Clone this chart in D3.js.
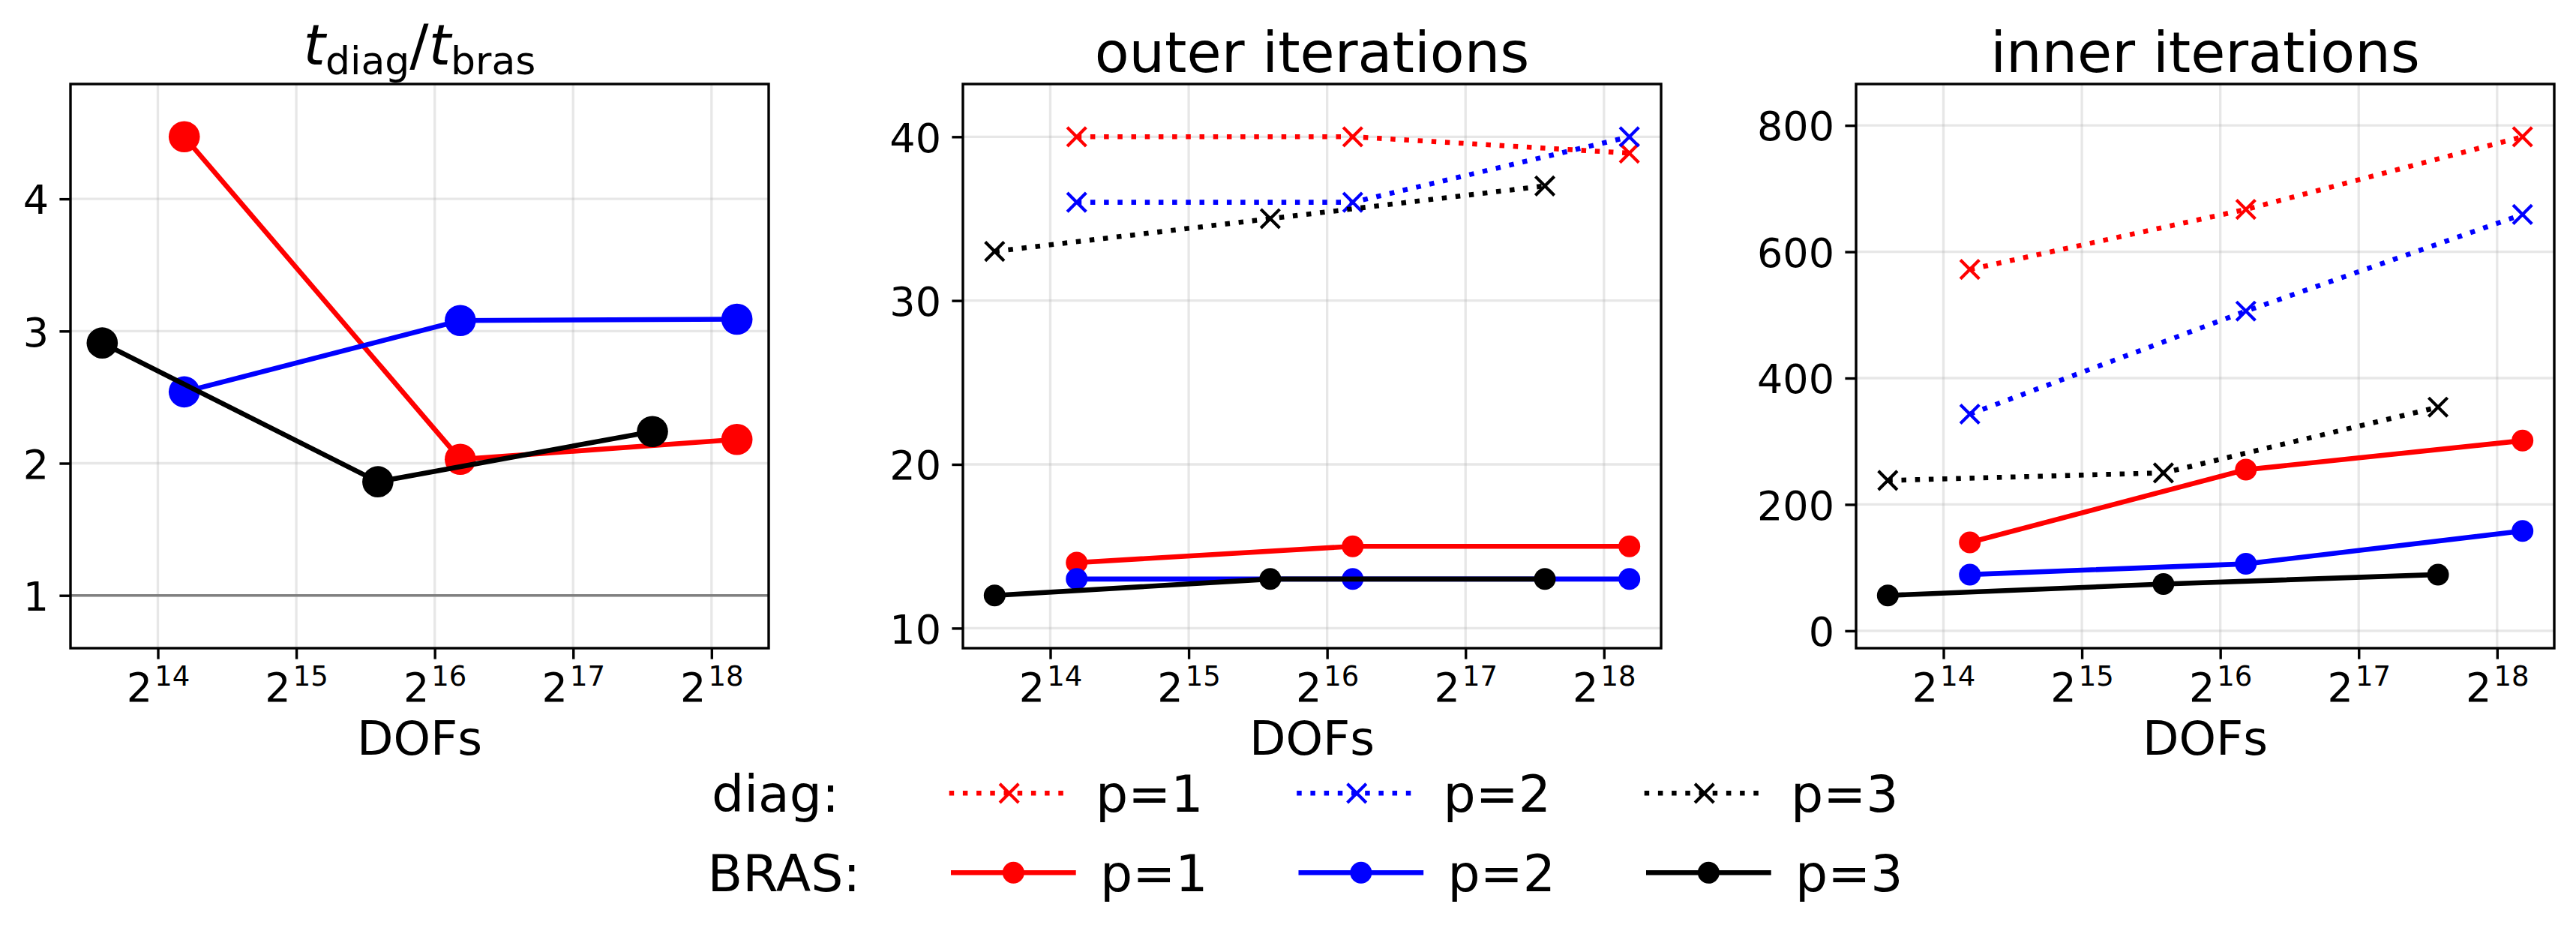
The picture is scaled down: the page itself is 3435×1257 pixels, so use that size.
<!DOCTYPE html>
<html>
<head>
<meta charset="utf-8">
<script src="https://cdn.jsdelivr.net/npm/d3@7"></script>
<style>
  body { margin: 0; background: #fff; }
  text { font-family: "DejaVu Sans", sans-serif; fill: #000; }
</style>
</head>
<body>
<script>
// DOFs per refinement level (p=1 and p=2 share the same meshes)
const dofsP12 = [18700, 74500, 297700];
const dofsP3 = [12400, 49300, 195000];

const pLabels = ["p=1", "p=2", "p=3"];
const pColors = ["#ff0000", "#0000ff", "#000000"];

// t_diag / t_bras
const ratioP1 = [4.47, 2.03, 2.18];
const ratioP2 = [2.54, 3.08, 3.09];
const ratioP3 = [2.91, 1.86, 2.24];

// outer iterations
const outerDiagP1 = [40, 40, 39];
const outerDiagP2 = [36, 36, 40];
const outerDiagP3 = [33, 35, 37];
const outerBrasP1 = [14, 15, 15];
const outerBrasP2 = [13, 13, 13];
const outerBrasP3 = [12, 13, 13];

// inner iterations
const innerDiagP1 = [572, 667, 782];
const innerDiagP2 = [343, 506, 659];
const innerDiagP3 = [238, 250, 354];
const innerBrasP1 = [140, 255, 301];
const innerBrasP2 = [89, 106, 158];
const innerBrasP3 = [56, 74, 89];

const xTickExps = [14, 15, 16, 17, 18];
const ratioTicks = [1, 2, 3, 4];
const outerTicks = [10, 20, 30, 40];
const innerTicks = [0, 200, 400, 600, 800];

const W = 3435, H = 1257;
const plotTop = 112, plotBottom = 864;
const panelW = 931;
const panelLeft = [94, 1284, 2475];
const lw = 6.6, dotted = "6.5,11.7";
const tickLen = 14.6, spineW = 3.4;

const svg = d3.select("body").append("svg")
  .attr("width", W).attr("height", H)
  .attr("viewBox", `0 0 ${W} ${H}`);

const dofsOf = [dofsP12, dofsP12, dofsP3];
const allDofs = dofsP12.concat(dofsP3);
const lo = Math.log2(d3.min(allDofs)), hi = Math.log2(d3.max(allDofs));
const xPad = 0.05 * (hi - lo);

function zip(xs, ys) { return xs.map((x, i) => ({x, y: ys[i]})); }

function panel(idx, title, ticks, series, extraY) {
  const g = svg.append("g")
    .attr("transform", `translate(${panelLeft[idx]},${plotTop})`);
  const h = plotBottom - plotTop;

  const x = d3.scaleLog().base(2)
    .domain([2 ** (lo - xPad), 2 ** (hi + xPad)])
    .range([0, panelW]);
  const ys = series.flatMap(s => s.data.map(d => d.y)).concat(extraY || []);
  const [ymin, ymax] = d3.extent(ys);
  const yPad = 0.115 * (ymax - ymin);
  const y = d3.scaleLinear().domain([ymin - yPad, ymax + yPad]).range([h, 0]);

  // grid
  g.append("g").selectAll("line").data(xTickExps).join("line")
    .attr("x1", d => x(2 ** d)).attr("x2", d => x(2 ** d))
    .attr("y1", 0).attr("y2", h)
    .attr("stroke", "#b0b0b0").attr("stroke-opacity", 0.3).attr("stroke-width", 3.3);
  g.append("g").selectAll("line").data(ticks).join("line")
    .attr("x1", 0).attr("x2", panelW)
    .attr("y1", d => y(d)).attr("y2", d => y(d))
    .attr("stroke", "#b0b0b0").attr("stroke-opacity", 0.3).attr("stroke-width", 3.3);

  if (extraY) {
    g.append("line")
      .attr("x1", 0).attr("x2", panelW)
      .attr("y1", y(1)).attr("y2", y(1))
      .attr("stroke", "#808080").attr("stroke-width", 3.5);
  }

  const line = d3.line().x(d => x(d.x)).y(d => y(d.y));
  series.forEach(s => {
    g.append("path")
      .attr("d", line(s.data))
      .attr("fill", "none")
      .attr("stroke", s.color)
      .attr("stroke-width", lw)
      .attr("stroke-dasharray", s.dash ? dotted : null);
    if (s.marker === "x") {
      const m = 12.6;
      g.append("g").selectAll("path").data(s.data).join("path")
        .attr("d", d => `M${x(d.x) - m},${y(d.y) - m}L${x(d.x) + m},${y(d.y) + m}M${x(d.x) - m},${y(d.y) + m}L${x(d.x) + m},${y(d.y) - m}`)
        .attr("stroke", s.color).attr("stroke-width", 4.2).attr("fill", "none");
    } else {
      g.append("g").selectAll("circle").data(s.data).join("circle")
        .attr("cx", d => x(d.x)).attr("cy", d => y(d.y))
        .attr("r", s.r).attr("fill", s.color);
    }
  });

  // frame
  g.append("rect")
    .attr("width", panelW).attr("height", h)
    .attr("fill", "none").attr("stroke", "#000").attr("stroke-width", spineW);

  // x axis
  const xa = g.append("g").attr("transform", `translate(0,${h})`)
    .call(d3.axisBottom(x).tickValues(xTickExps.map(e => 2 ** e)).tickSize(tickLen).tickSizeOuter(0));
  xa.select(".domain").remove();
  xa.selectAll(".tick line").attr("stroke-width", spineW);
  xa.selectAll(".tick text").each(function(d) {
    const t = d3.select(this).text(null)
      .attr("y", 71).attr("dy", null)
      .attr("font-size", 54).attr("text-anchor", "middle");
    t.append("tspan").text("2");
    t.append("tspan").attr("font-size", 37).attr("dy", -21).attr("dx", 3).text(Math.round(Math.log2(d)));
  });

  // y axis
  const ya = g.append("g")
    .call(d3.axisLeft(y).tickValues(ticks).tickFormat(d3.format("d")).tickSize(tickLen).tickSizeOuter(0));
  ya.select(".domain").remove();
  ya.selectAll(".tick line").attr("stroke-width", spineW);
  ya.selectAll(".tick text")
    .attr("x", -29).attr("dy", 19.7)
    .attr("font-size", 54).attr("text-anchor", "end");

  xa.attr("font-family", null).attr("font-size", null);
  ya.attr("font-family", null).attr("font-size", null);

  // x label
  g.append("text")
    .attr("x", panelW / 2).attr("y", 1006 - plotTop)
    .attr("text-anchor", "middle").attr("font-size", 63)
    .text("DOFs");

  // title
  const tt = g.append("text")
    .attr("x", panelW / 2)
    .attr("text-anchor", "middle").attr("font-size", 75);
  if (typeof title === "string") {
    tt.attr("y", 96 - plotTop).text(title);
  } else {
    tt.attr("y", 86 - plotTop);
    title(tt);
  }
}

const bras = [ratioP1, ratioP2, ratioP3].map((v, i) => ({
  data: zip(dofsOf[i], v), color: pColors[i], marker: "o", r: 20.8
}));
panel(0, tt => {
  tt.append("tspan").attr("font-style", "italic").text("t");
  tt.append("tspan").attr("font-size", 52).attr("dy", 12.5).text("diag");
  tt.append("tspan").attr("dy", -12.5).text("/");
  tt.append("tspan").attr("font-style", "italic").text("t");
  tt.append("tspan").attr("font-size", 52).attr("dy", 12.5).text("bras");
}, ratioTicks, bras, [1]);

function iterSeries(diag, brasv) {
  const out = [];
  for (let i = 0; i < 3; i++) {
    out.push({data: zip(dofsOf[i], diag[i]), color: pColors[i], marker: "x", dash: true});
    out.push({data: zip(dofsOf[i], brasv[i]), color: pColors[i], marker: "o", r: 14.5});
  }
  return out;
}

panel(1, "outer iterations", outerTicks,
  iterSeries([outerDiagP1, outerDiagP2, outerDiagP3], [outerBrasP1, outerBrasP2, outerBrasP3]));
panel(2, "inner iterations", innerTicks,
  iterSeries([innerDiagP1, innerDiagP2, innerDiagP3], [innerBrasP1, innerBrasP2, innerBrasP3]));

// legend
const legend = svg.append("g").attr("font-size", 68);
const rows = [
  {name: "diag:", nameX: 949, lineY: 1057.3, base: 1082, start: 1265.7, len: 160, textOff: 195.3, marker: "x", dash: true},
  {name: "BRAS:", nameX: 943.5, lineY: 1163.3, base: 1188, start: 1268, len: 166.7, textOff: 199, marker: "o", dash: false}
];
const colStep = 463.5;
rows.forEach(r => {
  legend.append("text").attr("x", r.nameX).attr("y", r.base).text(r.name);
  pLabels.forEach((lab, i) => {
    const x0 = r.start + i * colStep, cx = x0 + r.len / 2;
    legend.append("line")
      .attr("x1", x0).attr("x2", x0 + r.len)
      .attr("y1", r.lineY).attr("y2", r.lineY)
      .attr("stroke", pColors[i]).attr("stroke-width", lw)
      .attr("stroke-dasharray", r.dash ? dotted : null);
    if (r.marker === "x") {
      const m = 12.6;
      legend.append("path")
        .attr("d", `M${cx - m},${r.lineY - m}L${cx + m},${r.lineY + m}M${cx - m},${r.lineY + m}L${cx + m},${r.lineY - m}`)
        .attr("stroke", pColors[i]).attr("stroke-width", 4.2);
    } else {
      legend.append("circle").attr("cx", cx).attr("cy", r.lineY).attr("r", 14.5).attr("fill", pColors[i]);
    }
    legend.append("text").attr("x", x0 + r.textOff).attr("y", r.base).text(lab);
  });
});
</script>
</body>
</html>
